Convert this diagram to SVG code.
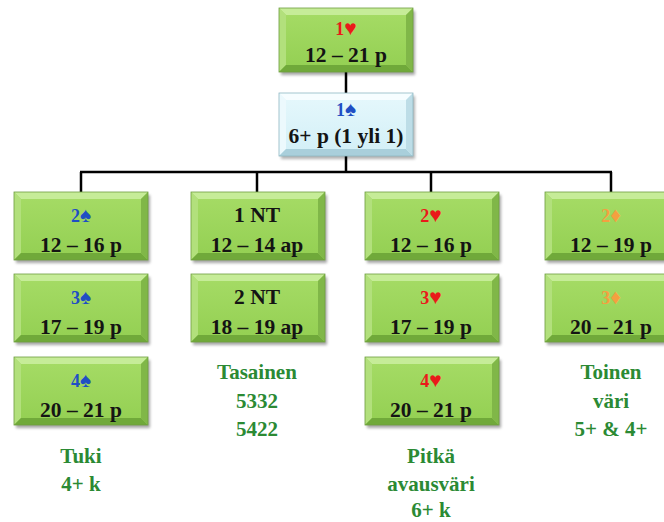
<svg xmlns="http://www.w3.org/2000/svg" width="664" height="522" viewBox="0 0 664 522">
<style>
text{font-family:'Liberation Serif','Times New Roman','DejaVu Serif',serif;font-weight:bold;text-anchor:middle}
.s1{font-size:18px}
.s2{font-size:21.5px;fill:#141414}
.lbl{font-size:21px;fill:#2b8a34}
.sp{fill:#1f4fc4}
.ht{fill:#ea1a1a}
.dm{fill:#f4a040}
.sy{font-size:21px}
.con{stroke:#000;stroke-width:2.5;fill:none}
</style>
<defs>
<filter id="sh" x="-10%" y="-10%" width="130%" height="140%"><feGaussianBlur stdDeviation="1.6"/></filter>
<linearGradient id="gf" x1="0" y1="0" x2="0" y2="1"><stop offset="0" stop-color="#a6dc66"/><stop offset="1" stop-color="#93cf52"/></linearGradient>
<linearGradient id="cf" x1="0" y1="0" x2="0" y2="1"><stop offset="0" stop-color="#e6f8fc"/><stop offset="1" stop-color="#d2eff7"/></linearGradient>
<symbol id="gbox" overflow="visible">
<rect x="2" y="3" width="134" height="68" fill="#000" opacity="0.35" filter="url(#sh)"/>
<rect x="0" y="0" width="134" height="68" fill="url(#gf)"/>
<polygon points="0,0 134,0 127,7 7,7" fill="#c6ec98"/>
<polygon points="0,0 7,7 7,61 0,68" fill="#b2e07c"/>
<polygon points="0,68 7,61 127,61 134,68" fill="#70a93a"/>
<polygon points="134,0 134,68 127,61 127,7" fill="#80b748"/>
<rect x="0" y="0" width="134" height="68" fill="none" stroke="#6e9e40" stroke-width="0.8"/>
</symbol>
<symbol id="tbox" overflow="visible">
<rect x="2" y="3" width="134" height="64" fill="#000" opacity="0.35" filter="url(#sh)"/>
<rect x="0" y="0" width="134" height="64" fill="url(#gf)"/>
<polygon points="0,0 134,0 127,7 7,7" fill="#c6ec98"/>
<polygon points="0,0 7,7 7,57 0,64" fill="#b2e07c"/>
<polygon points="0,64 7,57 127,57 134,64" fill="#70a93a"/>
<polygon points="134,0 134,64 127,57 127,7" fill="#80b748"/>
<rect x="0" y="0" width="134" height="64" fill="none" stroke="#6e9e40" stroke-width="0.8"/>
</symbol>
<symbol id="cbox" overflow="visible">
<rect x="2" y="3" width="134" height="63" fill="#000" opacity="0.3" filter="url(#sh)"/>
<rect x="0" y="0" width="134" height="63" fill="url(#cf)"/>
<polygon points="0,0 134,0 127,7 7,7" fill="#f6fdff"/>
<polygon points="0,0 7,7 7,56 0,63" fill="#ecf9fd"/>
<polygon points="0,63 7,56 127,56 134,63" fill="#a9cfdb"/>
<polygon points="134,0 134,63 127,56 127,7" fill="#bddde7"/>
<rect x="0" y="0" width="134" height="63" fill="none" stroke="#8fb8c4" stroke-width="0.8"/>
</symbol>
</defs>
<rect width="664" height="522" fill="#fff"/>
<g id="connectors" class="con">
<line x1="346" y1="72" x2="346" y2="93"/>
<line x1="346" y1="156" x2="346" y2="172"/>
<line x1="80" y1="172" x2="612" y2="172"/>
<line x1="81" y1="172" x2="81" y2="192"/>
<line x1="257" y1="172" x2="257" y2="192"/>
<line x1="431" y1="172" x2="431" y2="192"/>
<line x1="611" y1="172" x2="611" y2="192"/>
</g>
<g id="n-1h"><use href="#tbox" x="279" y="8"/><text class="s1 ht" x="346" y="35">1<tspan class="sy">♥</tspan></text><text class="s2" x="346" y="62">12 – 21 p</text></g>
<g id="n-1s"><use href="#cbox" x="279" y="93"/><text class="s1 sp" x="346" y="116">1<tspan class="sy">♠</tspan></text><text class="s2" x="346" y="143">6+ p (1 yli 1)</text></g>
<g id="n-2s"><use href="#gbox" x="14" y="192"/><text class="s1 sp" x="81" y="222">2<tspan class="sy">♠</tspan></text><text class="s2" x="81" y="252">12 – 16 p</text></g>
<g id="n-3s"><use href="#gbox" x="14" y="274"/><text class="s1 sp" x="81" y="304">3<tspan class="sy">♠</tspan></text><text class="s2" x="81" y="334">17 – 19 p</text></g>
<g id="n-4s"><use href="#gbox" x="14" y="357"/><text class="s1 sp" x="81" y="387">4<tspan class="sy">♠</tspan></text><text class="s2" x="81" y="417">20 – 21 p</text></g>
<g id="n-1nt"><use href="#gbox" x="191" y="192"/><text class="s2" x="257" y="222">1 NT</text><text class="s2" x="257" y="252">12 – 14 ap</text></g>
<g id="n-2nt"><use href="#gbox" x="191" y="274"/><text class="s2" x="257" y="304">2 NT</text><text class="s2" x="257" y="334">18 – 19 ap</text></g>
<g id="n-2h"><use href="#gbox" x="365" y="192"/><text class="s1 ht" x="431" y="222">2<tspan class="sy">♥</tspan></text><text class="s2" x="431" y="252">12 – 16 p</text></g>
<g id="n-3h"><use href="#gbox" x="365" y="274"/><text class="s1 ht" x="431" y="304">3<tspan class="sy">♥</tspan></text><text class="s2" x="431" y="334">17 – 19 p</text></g>
<g id="n-4h"><use href="#gbox" x="365" y="357"/><text class="s1 ht" x="431" y="387">4<tspan class="sy">♥</tspan></text><text class="s2" x="431" y="417">20 – 21 p</text></g>
<g id="n-2d"><use href="#gbox" x="545" y="192"/><text class="s1 dm" x="611" y="222">2<tspan class="sy">♦</tspan></text><text class="s2" x="611" y="252">12 – 19 p</text></g>
<g id="n-3d"><use href="#gbox" x="545" y="274"/><text class="s1 dm" x="611" y="304">3<tspan class="sy">♦</tspan></text><text class="s2" x="611" y="334">20 – 21 p</text></g>
<g id="labels" class="lbl">
<text x="81" y="463">Tuki</text>
<text x="81" y="491">4+ k</text>
<text x="257" y="379">Tasainen</text>
<text x="257" y="408">5332</text>
<text x="257" y="436">5422</text>
<text x="431" y="463">Pitkä</text>
<text x="431" y="491">avausväri</text>
<text x="431" y="517">6+ k</text>
<text x="611" y="379">Toinen</text>
<text x="611" y="408">väri</text>
<text x="611" y="436">5+ &amp; 4+</text>
</g>
</svg>
